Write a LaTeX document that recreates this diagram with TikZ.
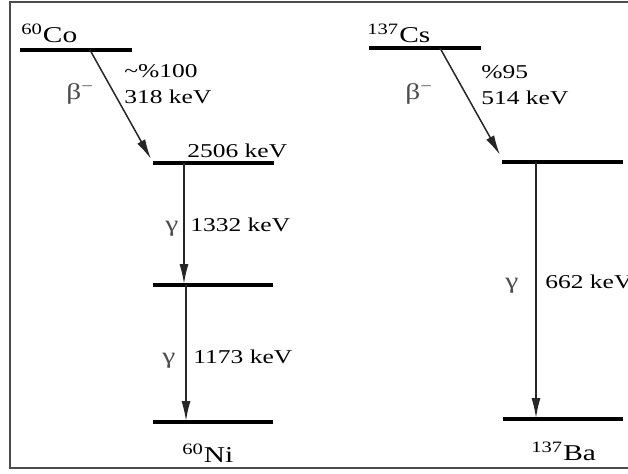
\documentclass[tikz,border=0pt]{standalone}
\usepackage{fontspec}
\setmainfont{Liberation Serif}[FakeStretch=1.3]
\usetikzlibrary{arrows.meta,positioning}
\begin{document}
\begin{tikzpicture}[
    x=0.5pt, y=-0.5pt,
    level/.style={line width=2pt},
    decay/.style={-{Latex[length=10pt,width=4.5pt]}, line width=0.75pt, black!85},
    lbl/.style={inner sep=0pt, anchor=base west, font=\fontsize{9.8}{11}\selectfont},
    nuc/.style={inner sep=0pt, anchor=base west, font=\fontsize{11.3}{13}\selectfont},
    greek/.style={nuc, text=black!70},
]
\useasboundingbox (0,0) rectangle (628,473);
\draw[line width=0.6pt, black!70] (10,2) rectangle (640,468);

% Co-60 scheme
\draw[level] (20,50) -- (132,50);
\draw[level] (153,163) -- (274,163);
\draw[level] (153,285) -- (273,285);
\draw[level] (153,422) -- (273,422);

\coordinate (co_out) at (90,50);
\coordinate (ni_2506) at (151,159);
\coordinate (ni_top) at (184,163);
\coordinate (ni_1332) at (184,284);
\coordinate (ni_mid) at (186,285);
\coordinate (ni_gs) at (186,421);

\draw[decay] (co_out) -- (ni_2506);
\draw[decay] (ni_top) -- (ni_1332);
\draw[decay] (ni_mid) -- (ni_gs);

\node[nuc] (co_name) at (21,42) {\textsuperscript{60}Co};
\node[lbl] (co_prob) at (124,77) {\textasciitilde\%100};
\node[lbl] (co_energy) at (124,103) {318 keV};
\node[greek] (co_beta) at (66,99) {β\textsuperscript{−}};
\node[lbl] (ni_level) at (187,157) {2506 keV};
\node[greek] (ni_gamma1) at (165,231) {γ};
\node[lbl] (ni_e1) at (190,231) {1332 keV};
\node[greek] (ni_gamma2) at (162,363) {γ};
\node[lbl] (ni_e2) at (193,363) {1173 keV};
\node[nuc] (ni_name) at (182,462) {\textsuperscript{60}Ni};

% Cs-137 scheme
\draw[level] (369,48) -- (481,48);
\draw[level] (502,162) -- (623,162);
\draw[level] (503,419) -- (623,419);

\coordinate (cs_out) at (440,48);
\coordinate (ba_662) at (500,155);
\coordinate (ba_top) at (536,162);
\coordinate (ba_gs) at (536,418);

\draw[decay] (cs_out) -- (ba_662);
\draw[decay] (ba_top) -- (ba_gs);

\node[nuc] (cs_name) at (367,42) {\textsuperscript{137}Cs};
\node[lbl] (cs_prob) at (481,78) {\%95};
\node[lbl] (cs_energy) at (481,104) {514 keV};
\node[greek] (cs_beta) at (405,99) {β\textsuperscript{−}};
\node[greek] (ba_gamma) at (505,288) {γ};
\node[lbl] (ba_e) at (545,288) {662 keV};
\node[nuc] (ba_name) at (531,460) {\textsuperscript{137}Ba};

\end{tikzpicture}
\end{document}
